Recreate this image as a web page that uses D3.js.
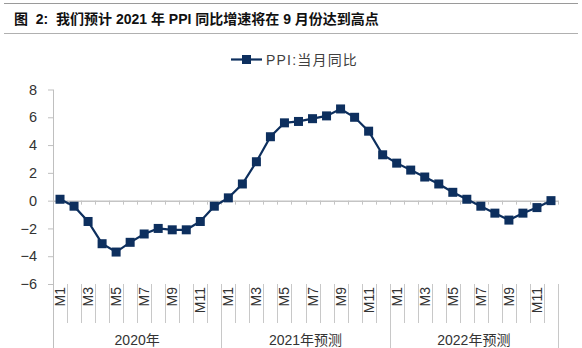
<!DOCTYPE html>
<html><head><meta charset="utf-8">
<script src="https://cdn.jsdelivr.net/npm/d3@7"></script>
<style>body{margin:0;background:#fff}svg{display:block}</style>
</head><body>
<svg id="c" width="582" height="348"></svg>
<script>
const titleText = "图  2:  我们预计 2021 年 PPI 同比增速将在 9 月份达到高点";
const seriesName = "PPI:当月同比";
const groups = ["2020年", "2021年预测", "2022年预测"];
const months = ["M1","M2","M3","M4","M5","M6","M7","M8","M9","M10","M11","M12"];
const ppi2020 = [0.1, -0.4, -1.5, -3.1, -3.7, -3.0, -2.4, -2.0, -2.1, -2.1, -1.5, -0.4];
const ppi2021 = [0.2, 1.2, 2.8, 4.6, 5.6, 5.7, 5.9, 6.1, 6.6, 6.0, 5.0, 3.3];
const ppi2022 = [2.7, 2.2, 1.7, 1.2, 0.6, 0.1, -0.4, -0.9, -1.4, -0.9, -0.5, 0.0];
const yTicks = [-6, -4, -2, 0, 2, 4, 6, 8];

const data = [];
[ppi2020, ppi2021, ppi2022].forEach((arr, g) => arr.forEach((v, i) => data.push({g, m: months[i], i: g*12+i, v})));

const svg = d3.select("#c");
const font = "'Liberation Sans', Arial, 'Noto Sans CJK SC', sans-serif";
const col = "#0d2f5e";

// title with rules
svg.append("line").attr("x1",4).attr("x2",578).attr("y1",3.5).attr("y2",3.5).attr("stroke","#9a9a9a").attr("stroke-width",1);
svg.append("line").attr("x1",4).attr("x2",578).attr("y1",33.5).attr("y2",33.5).attr("stroke","#b0b0b0").attr("stroke-width",1);
svg.append("text").attr("x",14).attr("y",23.5).attr("font-family",font).attr("font-size",14).attr("font-weight","bold")
  .attr("fill","#111").style("white-space","pre").text(titleText);

const x = d3.scaleBand().domain(d3.range(36)).range([53, 558]).paddingInner(0).paddingOuter(0);
const y = d3.scaleLinear().domain([-6, 8]).range([284, 89.5]);

// y axis
const yAxis = svg.append("g").attr("transform","translate(53,0)")
  .call(d3.axisLeft(y).tickValues(yTicks).tickSize(5).tickPadding(11).tickFormat(d3.format("d")));
yAxis.select(".domain").remove();
yAxis.selectAll(".tick line").attr("stroke","#bfbfbf");
yAxis.selectAll("text").attr("font-family",font).attr("font-size",14.5).attr("fill","#333");
svg.append("line").attr("x1",53.5).attr("x2",53.5).attr("y1",y(8)).attr("y2",348).attr("stroke","#bfbfbf");

// zero line with category ticks
const zAxis = svg.append("g").attr("transform",`translate(0,${y(0)})`)
  .call(d3.axisBottom(x).tickSize(0).tickFormat(""));
zAxis.select(".domain").attr("stroke","#c4c4c4").attr("stroke-width",1.5);
zAxis.selectAll(".tick").remove();
svg.append("g").selectAll("line").data(d3.range(1,37)).join("line")
  .attr("x1", d => Math.round(x.step()*d + 53)+0.5).attr("x2", d => Math.round(x.step()*d + 53)+0.5)
  .attr("y1", y(0)).attr("y2", y(0)+4).attr("stroke","#c4c4c4");

// category label area
const boundaries = d3.range(1,36).filter(d => d % 12 !== 0);
svg.append("g").selectAll("line").data(boundaries).join("line")
  .attr("x1", d => Math.round(53 + x.step()*d)+0.5).attr("x2", d => Math.round(53 + x.step()*d)+0.5)
  .attr("y1", 284).attr("y2", 323).attr("stroke","#c8c8c8");
svg.append("g").selectAll("line").data([12,24,36]).join("line")
  .attr("x1", d => Math.round(53 + x.step()*d)+0.5).attr("x2", d => Math.round(53 + x.step()*d)+0.5)
  .attr("y1", 284).attr("y2", 348).attr("stroke","#c8c8c8");

svg.append("g").selectAll("text").data(data.filter((d,k) => k % 2 === 0)).join("text")
  .attr("transform", d => `translate(${x(d.i)+x.bandwidth()/2+5},287) rotate(-90)`)
  .attr("text-anchor","end").attr("font-family",font).attr("font-size",14).attr("fill","#333")
  .text(d => d.m);

svg.append("g").selectAll("text").data(groups).join("text")
  .attr("x", (d,g) => 53 + x.step()*(g*12+6)).attr("y", 345)
  .attr("text-anchor","middle").attr("font-family",font).attr("font-size",14).attr("fill","#333")
  .text(d => d);

// series
const line = d3.line().x(d => x(d.i)+x.bandwidth()/2).y(d => y(d.v));
svg.append("path").datum(data).attr("d", line).attr("fill","none").attr("stroke",col).attr("stroke-width",2.2);
svg.append("g").selectAll("rect").data(data).join("rect")
  .attr("x", d => x(d.i)+x.bandwidth()/2-4.5).attr("y", d => y(d.v)-4.5)
  .attr("width",9).attr("height",9).attr("fill",col);

// legend
const lg = svg.append("g");
lg.append("line").attr("x1",231).attr("x2",262).attr("y1",59.5).attr("y2",59.5).attr("stroke",col).attr("stroke-width",2.2);
lg.append("rect").attr("x",242).attr("y",55).attr("width",9).attr("height",9).attr("fill",col);
lg.append("text").attr("x",266).attr("y",64.5).attr("font-family",font).attr("font-size",14).attr("letter-spacing",1.2).attr("fill","#404040").text(seriesName);
</script>
</body></html>
